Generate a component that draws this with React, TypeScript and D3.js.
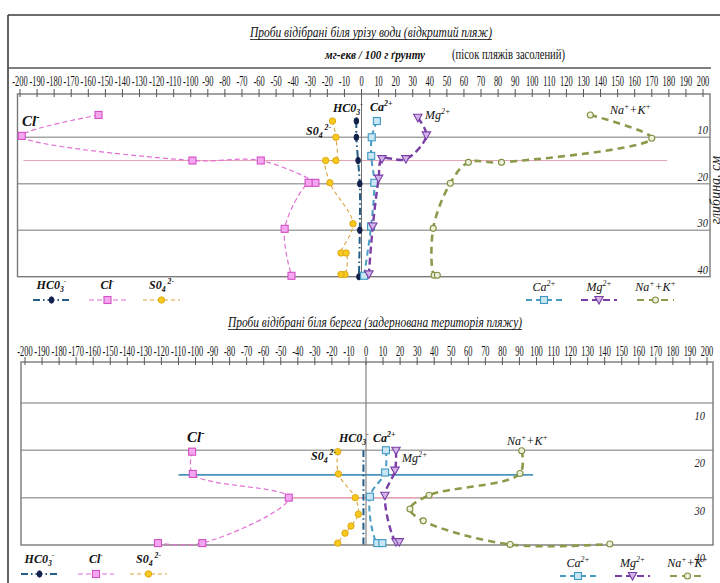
import React from "react";
import * as d3 from "d3";

type Pt = [number, number]; // [value (mg-eq/100 g), depth (cm)]

const X_TICKS: number[] = d3.range(-200, 201, 10);
const DEPTH_TICKS: number[] = [10, 20, 30, 40];

// Upper panel – samples near the water line (open beach)
const upHCO3: Pt[] = [[-3, 6.5], [-3, 10], [-2, 15], [-1, 20], [-1, 30], [-1.5, 40]];
const upCl: Pt[] = [[-154, 5.2], [-199, 9.7], [-99, 15], [-59, 15], [-27, 19.8], [-31, 19.8], [-45, 29.7], [-41, 39.8]];
const upSO4: Pt[] = [[-17, 6.5], [-15, 10], [-15, 15], [-21, 15], [-18.5, 19.8], [-5, 28.6], [-12, 34.9], [-9, 34.9], [-9.7, 39.5], [-12, 39.5]];
const upCa: Pt[] = [[9, 6.5], [6, 10], [5.7, 14], [7.5, 19.8], [5.6, 29.2], [1.5, 39.8]];
const upMg: Pt[] = [[33, 5.8], [38, 9.6], [26, 14.7], [12, 14.7], [10, 18.9], [6.6, 29.2], [4.3, 39.5]];
const upNa: Pt[] = [[134, 5.2], [170, 10.2], [82, 15.4], [62.6, 15.4], [52, 19.9], [42, 29.6], [42.5, 39.7], [44.4, 39.7]];
const upPinkLine: Pt[] = [[-198, 15], [179, 15]];

// Lower panel – samples near the shore (turfed beach)
const lowHCO3: Pt[] = [[-1.5, 20], [-1.5, 30], [-1.5, 40]];
const lowCl: Pt[] = [[-102, 20.3], [-101.6, 25], [-45.3, 30], [-96, 39.6], [-122, 39.6]];
const lowSO4: Pt[] = [[-16.6, 20.3], [-16.2, 25], [-6.3, 30], [-4.5, 33.5], [-8.8, 36], [-12.3, 37.5], [-16.6, 39.6]];
const lowCa: Pt[] = [[11.7, 20], [11.2, 24.7], [2.3, 29.8], [6.6, 39.6], [9.6, 39.6]];
const lowMg: Pt[] = [[17.6, 20.1], [17, 24.3], [11.1, 29.6], [17.6, 39.4], [19.5, 39.4]];
const lowNa: Pt[] = [[91.3, 20.1], [90.3, 24.9], [37, 29.5], [25.8, 32.4], [33.6, 34.9], [84.5, 39.9], [143, 39.8]];
const lowPinkLine: Pt[] = [[-46, 30], [40, 30]];
const lowBlueLine: Pt[] = [[-110, 25.2], [98, 25.2]];

const TITLE_TOP = "Проби відібрані біля урізу води (відкритий пляж)";
const TITLE_LOW = "Проби відібрані біля берега (задернована територія пляжу)";
const UNITS = "мг-екв / 100 г ґрунту";
const UNITS_NOTE = "(пісок пляжів засолений)";
const DEPTH_TITLE = "глибина, см";

type Ion = "HCO3" | "Cl" | "SO4" | "Ca" | "Mg" | "Na";

const STY: Record<Ion, any> = {
  HCO3: { line: "#245d86", dash: "7,3,1.5,3", w: 2, shape: "dot", fill: "#14224e", stroke: "#14224e" },
  Cl: { line: "#e46fd4", dash: "5,3", w: 1.2, shape: "square", fill: "#f4a7ee", stroke: "#d24fc6" },
  SO4: { line: "#d9a441", dash: "4,3", w: 1.1, shape: "circle", fill: "#f7c81e", stroke: "#dca40f" },
  Ca: { line: "#4a9cc2", dash: "6,4", w: 2, shape: "square", fill: "#c8e6f3", stroke: "#3f98c2" },
  Mg: { line: "#7a3ea6", dash: "7,4", w: 2.4, shape: "tri", fill: "#d2b4ea", stroke: "#7a3ea6" },
  Na: { line: "#8c9a4c", dash: "7,5", w: 2.6, shape: "ring", fill: "#eef1da", stroke: "#7f8e42" },
};

const ION_PARTS: Record<Ion, [string, string][]> = {
  HCO3: [["HC0", "n"], ["3", "sub"], ["-", "sup"]],
  Cl: [["Cl", "n"], ["-", "sup"]],
  SO4: [["S0", "n"], ["4", "sub"], [" 2-", "sup"]],
  Ca: [["Ca", "n"], ["2+", "sup"]],
  Mg: [["Mg", "n"], ["2+", "sup"]],
  Na: [["Na", "n"], ["+", "sup"], ["+K", "n"], ["+", "sup"]],
};

const FONT = "'Liberation Serif', 'Times New Roman', serif";

function IonText({ ion, x, y, size, bold, anchor }: any) {
  const parts = ION_PARTS[ion as Ion];
  let level = 0;
  return (
    <text x={x} y={y} fontFamily={FONT} fontStyle="italic" fontWeight={bold ? "bold" : "normal"} fontSize={size} textAnchor={anchor || "start"} fill="#111">
      {parts.map(([t, k], i) => {
        const target = k === "sub" ? size * 0.25 : k === "sup" ? -size * 0.4 : 0;
        const dy = target - level;
        level = target;
        return (
          <tspan key={i} dy={dy} fontSize={k === "n" ? size : size * 0.65}>{t}</tspan>
        );
      })}
    </text>
  );
}

function Marker({ shape, x, y, fill, stroke }: any) {
  if (shape === "square") return <rect x={x - 3.5} y={y - 3.5} width={7} height={7} fill={fill} stroke={stroke} strokeWidth={1.1} />;
  if (shape === "circle") return <circle cx={x} cy={y} r={3.2} fill={fill} stroke={stroke} strokeWidth={0.9} />;
  if (shape === "ring") return <circle cx={x} cy={y} r={3} fill={fill} stroke={stroke} strokeWidth={1.1} />;
  if (shape === "tri") return <path d={`M${x - 4.2},${y - 3.5}L${x + 4.2},${y - 3.5}L${x},${y + 4}Z`} fill={fill} stroke={stroke} strokeWidth={1.1} />;
  return <ellipse cx={x} cy={y} rx={2.3} ry={3.2} fill={fill} stroke={stroke} />;
}

function Panel({ cfg }: any) {
  const x = d3.scaleLinear().domain([-200, 200]).range(cfg.xr);
  const y = d3.scaleLinear().domain([0, 40]).range(cfg.yr);
  const curve = d3.line<Pt>().x((d) => x(d[0])).y((d) => y(d[1])).curve(d3.curveCatmullRom.alpha(0.5));
  const straight = d3.line<Pt>().x((d) => x(d[0])).y((d) => y(d[1]));
  const [bx0, bx1] = cfg.box;
  const by0 = cfg.axisY;
  const by1 = y(40);
  return (
    <g>
      {DEPTH_TICKS.slice(0, 3).map((d) => (
        <line key={d} x1={bx0} x2={bx1} y1={y(d)} y2={y(d)} stroke="#a4a4a4" strokeWidth={1.5} />
      ))}
      {cfg.refLines.map((r: any, i: number) => (
        <path key={i} d={straight(r.pts) || ""} stroke={r.color} strokeWidth={r.w} fill="none" />
      ))}
      <rect x={bx0} y={by0} width={bx1 - bx0} height={by1 - by0} fill="none" stroke="#7a7a7a" strokeWidth={1.4} />
      <line x1={x(0)} x2={x(0)} y1={by0} y2={by1} stroke="#6e6e6e" strokeWidth={1} />
      {X_TICKS.map((v) => (
        <line key={v} x1={x(v)} x2={x(v)} y1={by0 - 5} y2={by0 + 3} stroke="#555" strokeWidth={1} />
      ))}
      {X_TICKS.map((v) => (
        <text key={"t" + v} transform={`translate(${x(v)},${cfg.tickY}) scale(0.6,1)`} textAnchor="middle" fontFamily={FONT} fontSize={14} fill="#111">
          {String(v)}
        </text>
      ))}
      {DEPTH_TICKS.map((d) => (
        <text key={"d" + d} transform={`translate(${cfg.depthX},${y(d) + cfg.depthDy}) scale(0.8,1)`} textAnchor="end" fontFamily={FONT} fontStyle="italic" fontSize={13} fill="#222">
          {d}
        </text>
      ))}
      {cfg.series.map((s: any) => {
        const st = STY[s.ion as Ion];
        return (
          <g key={s.ion}>
            <path d={curve(s.data) || ""} fill="none" stroke={st.line} strokeWidth={st.w} strokeDasharray={st.dash} />
            {s.markers !== false &&
              s.data.map((p: Pt, i: number) => (
                <Marker key={i} shape={st.shape} x={x(p[0])} y={y(p[1])} fill={st.fill} stroke={st.stroke} />
              ))}
          </g>
        );
      })}
      {cfg.labels.map((l: any) => (
        <IonText key={l.ion} ion={l.ion} x={l.x} y={l.y} size={l.size || 12} bold={l.bold !== false} />
      ))}
      {cfg.legend.map((l: any) => {
        const st = STY[l.ion as Ion];
        const mid = (l.x0 + l.x1) / 2;
        return (
          <g key={"lg" + l.ion}>
            <IonText ion={l.ion} x={mid} y={l.ty} size={12} bold={l.bold} anchor="middle" />
            <line x1={l.x0} x2={l.x1} y1={l.ly} y2={l.ly} stroke={st.line} strokeWidth={Math.min(st.w, 2)} strokeDasharray={st.dash} />
            <Marker shape={st.shape} x={mid} y={l.ly} fill={st.fill} stroke={st.stroke} />
          </g>
        );
      })}
      <text transform={`translate(${cfg.depthTitleX},${cfg.depthTitleY}) rotate(-90)`} textAnchor="middle" fontFamily={FONT} fontStyle="italic" fontSize={14} fill="#222">
        {DEPTH_TITLE}
      </text>
    </g>
  );
}

const topCfg = {
  xr: [20, 703],
  yr: [90.8, 276.7],
  box: [17.5, 710],
  axisY: 94,
  tickY: 86,
  depthX: 708,
  depthDy: -3,
  depthTitleX: 719.5,
  depthTitleY: 190,
  refLines: [{ pts: upPinkLine, color: "#e6a2b6", w: 1.2 }],
  series: [
    { ion: "Cl", data: upCl },
    { ion: "SO4", data: upSO4 },
    { ion: "HCO3", data: upHCO3 },
    { ion: "Na", data: upNa },
    { ion: "Ca", data: upCa },
    { ion: "Mg", data: upMg },
  ],
  labels: [
    { ion: "Cl", x: 22, y: 126, size: 15 },
    { ion: "HCO3", x: 333, y: 112 },
    { ion: "SO4", x: 306, y: 135 },
    { ion: "Ca", x: 370, y: 111 },
    { ion: "Mg", x: 425, y: 119, bold: false },
    { ion: "Na", x: 610, y: 114, bold: false },
  ],
  legend: [
    { ion: "HCO3", x0: 33, x1: 70, ty: 289, ly: 300, bold: true },
    { ion: "Cl", x0: 89, x1: 126, ty: 289, ly: 300, bold: true },
    { ion: "SO4", x0: 143, x1: 180, ty: 289, ly: 300, bold: true },
    { ion: "Ca", x0: 526, x1: 562, ty: 291, ly: 300, bold: false },
    { ion: "Mg", x0: 581, x1: 617, ty: 291, ly: 300, bold: false },
    { ion: "Na", x0: 637, x1: 674, ty: 291, ly: 300, bold: false },
  ],
};

const lowCfg = {
  xr: [25, 707],
  yr: [355.5, 545],
  box: [21, 713],
  axisY: 362,
  tickY: 356,
  depthX: 705,
  depthDy: 17,
  depthTitleX: 731,
  depthTitleY: 470,
  refLines: [
    { pts: lowPinkLine, color: "#eaa4b4", w: 1.3 },
    { pts: lowBlueLine, color: "#4a93bd", w: 1.6 },
  ],
  series: [
    { ion: "Cl", data: lowCl },
    { ion: "SO4", data: lowSO4 },
    { ion: "HCO3", data: lowHCO3, markers: false },
    { ion: "Na", data: lowNa },
    { ion: "Ca", data: lowCa },
    { ion: "Mg", data: lowMg },
  ],
  labels: [
    { ion: "Cl", x: 187, y: 442, size: 15 },
    { ion: "HCO3", x: 339, y: 442 },
    { ion: "SO4", x: 311, y: 460 },
    { ion: "Ca", x: 373, y: 442 },
    { ion: "Mg", x: 402, y: 462, bold: false },
    { ion: "Na", x: 507, y: 445, bold: false },
  ],
  legend: [
    { ion: "HCO3", x0: 21, x1: 58, ty: 563, ly: 574, bold: true },
    { ion: "Cl", x0: 78, x1: 114, ty: 563, ly: 574, bold: true },
    { ion: "SO4", x0: 130, x1: 167, ty: 563, ly: 574, bold: true },
    { ion: "Ca", x0: 560, x1: 596, ty: 567, ly: 576, bold: false },
    { ion: "Mg", x0: 615, x1: 650, ty: 567, ly: 576, bold: false },
    { ion: "Na", x0: 670, x1: 705, ty: 567, ly: 576, bold: false },
  ],
};

export default function App() {
  return (
    <svg width={720} height={583} viewBox="0 0 720 583" style={{ position: "fixed", left: 0, top: 0, background: "#fff" }}>
      <rect x={0} y={0} width={720} height={583} fill="#fff" />
      <line x1={8} x2={720} y1={15} y2={15} stroke="#3c3c3c" strokeWidth={1.6} />
      <line x1={8} x2={8} y1={15} y2={583} stroke="#3c3c3c" strokeWidth={1.6} />
      <line x1={8} x2={711} y1={68} y2={68} stroke="#555" strokeWidth={1.5} />
      <text x={250} y={37} textLength={242} lengthAdjust="spacingAndGlyphs" fontFamily={FONT} fontStyle="italic" fontSize={14} fill="#111">
        {TITLE_TOP}
      </text>
      <line x1={250} x2={492} y1={39.5} y2={39.5} stroke="#111" strokeWidth={0.8} />
      <text x={325} y={59} textLength={100} lengthAdjust="spacingAndGlyphs" fontFamily={FONT} fontStyle="italic" fontWeight="bold" fontSize={13} fill="#111">
        {UNITS}
      </text>
      <text x={452} y={59} textLength={113} lengthAdjust="spacingAndGlyphs" fontFamily={FONT} fontSize={14} fill="#111">
        {UNITS_NOTE}
      </text>
      <text x={228} y={327} textLength={294} lengthAdjust="spacingAndGlyphs" fontFamily={FONT} fontStyle="italic" fontSize={14} fill="#111">
        {TITLE_LOW}
      </text>
      <line x1={228} x2={522} y1={329.5} y2={329.5} stroke="#111" strokeWidth={0.8} />
      <Panel cfg={topCfg} />
      <Panel cfg={lowCfg} />
    </svg>
  );
}
